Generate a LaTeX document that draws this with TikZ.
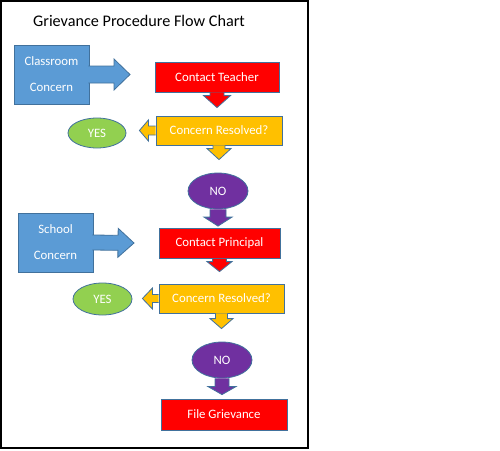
\documentclass[tikz,border=0pt]{standalone}
\usepackage{fontspec}
\setmainfont{Carlito}
\usepackage{tikz}
\usetikzlibrary{shapes,calc}
\definecolor{edgeblue}{HTML}{41719C}
\definecolor{boxblue}{HTML}{5B9BD5}
\definecolor{boxred}{HTML}{FF0000}
\definecolor{boxorange}{HTML}{FFC000}
\definecolor{boxgreen}{HTML}{92D050}
\definecolor{boxpurple}{HTML}{7030A0}
\tikzstyle{flowshape}=[draw=edgeblue,line width=0.8pt,text=white,inner sep=0pt,
                font=\fontsize{12.8}{15}\selectfont]
\tikzstyle{concern}=[flowshape,rectangle,fill=boxblue,align=center,minimum width=75pt,
                minimum height=59pt,font=\fontsize{12.8}{26}\selectfont]
\tikzstyle{contact}=[flowshape,rectangle,fill=boxred,minimum height=30pt]
\tikzstyle{resolved}=[flowshape,rectangle,fill=boxorange,minimum width=126pt,minimum height=29pt]
\tikzstyle{yes}=[flowshape,ellipse,fill=boxgreen,minimum width=58pt,minimum height=30pt]
\tikzstyle{no}=[flowshape,ellipse,fill=boxpurple,minimum width=60pt,minimum height=36pt]
\tikzstyle{blockarrow}=[draw=edgeblue,line width=0.8pt,line join=miter]
% block arrow from start to target: shaft half width, head half width, head length
\tikzset{fat/.style n args={3}{to path={
    ($(\tikztostart)!#1!90:(\tikztotarget)$)
    -- ($($(\tikztotarget)!#3!(\tikztostart)$)!#1!90:(\tikztotarget)$)
    -- ($($(\tikztotarget)!#3!(\tikztostart)$)!#2!90:(\tikztotarget)$)
    -- (\tikztotarget)
    -- ($($(\tikztotarget)!#3!(\tikztostart)$)!#2!-90:(\tikztotarget)$)
    -- ($($(\tikztotarget)!#3!(\tikztostart)$)!#1!-90:(\tikztotarget)$)
    -- ($(\tikztostart)!#1!-90:(\tikztotarget)$)}}}

\begin{document}
\begin{tikzpicture}[x=1pt,y=-1pt]
    \useasboundingbox (0,0) rectangle (500,450);
    \draw[line width=2pt] (1,1) rectangle (308,448);

    % title
    \node[anchor=base,font=\fontsize{16.2}{20}\selectfont] (chartTitle) at (139,26) {Grievance Procedure Flow Chart};

    % first round: teacher
    \node[concern] (classroom) at (51.5,74.5) {Classroom\\Concern};
    \node[contact,minimum width=124pt] (teacher) at (217,77) {Contact Teacher};
    \node[resolved] (resolvedA) at (219,130.5) {Concern Resolved?};
    \node[yes] (yesA) at (97,133) {YES};
    \node[no] (noA) at (218,191) {NO};

    % second round: principal
    \node[concern] (school) at (55.5,242.5) {School\\Concern};
    \node[contact,minimum width=121pt] (principal) at (219.5,243.5) {Contact Principal};
    \node[resolved,minimum width=125pt] (resolvedB) at (221.5,298.5) {Concern Resolved?};
    \node[yes,minimum width=59pt,minimum height=32pt] (yesB) at (102.5,299) {YES};
    \node[no] (noB) at (222,360) {NO};

    % last step
    \node[contact,minimum width=126pt,minimum height=31pt] (file) at (224,414.5) {File Grievance};

    % free ends of the callout arrows
    \coordinate (tipA) at (130,74.5);
    \coordinate (tipB) at (134,243);

    % connect the concerns
    \draw[blockarrow,fill=boxblue,fat={8.5pt}{15.5pt}{16pt}] ([xshift=-1pt]classroom.east) to (tipA);
    \draw[blockarrow,fill=boxblue,fat={7.5pt}{14.5pt}{16pt}] ([xshift=-1pt]school.east) to (tipB);

    % connect the steps
    \draw[blockarrow,fill=boxred,fat={7pt}{13.5pt}{12pt}] (teacher.south) to ([yshift=8pt]teacher.south |- resolvedA.north);
    \draw[blockarrow,fill=boxorange,fat={6pt}{12pt}{11pt}] (resolvedA.south) to ([yshift=13pt]resolvedA.south |- noA.north);
    \draw[blockarrow,fill=boxorange,fat={4.5pt}{10.5pt}{9pt}] (resolvedA.west) to ([xshift=13pt]resolvedA.west -| yesA.east);
    \draw[blockarrow,fill=boxpurple,fat={8pt}{14pt}{9pt}] (noA.south) to ([yshift=2pt]noA.south |- principal.north);
    \draw[blockarrow,fill=boxred,fat={7pt}{12.5pt}{10pt}] (principal.south) to ([yshift=12pt]principal.south |- resolvedB.north);
    \draw[blockarrow,fill=boxorange,fat={6pt}{11.5pt}{10pt}] (resolvedB.south) to ([yshift=13pt]resolvedB.south |- noB.north);
    \draw[blockarrow,fill=boxorange,fat={4pt}{10.5pt}{10pt}] (resolvedB.west) to ([xshift=10pt]resolvedB.west -| yesB.east);
    \draw[blockarrow,fill=boxpurple,fat={7pt}{14pt}{8pt}] (noB.south) to ([yshift=4pt]noB.south |- file.north);
\end{tikzpicture}
\end{document}
